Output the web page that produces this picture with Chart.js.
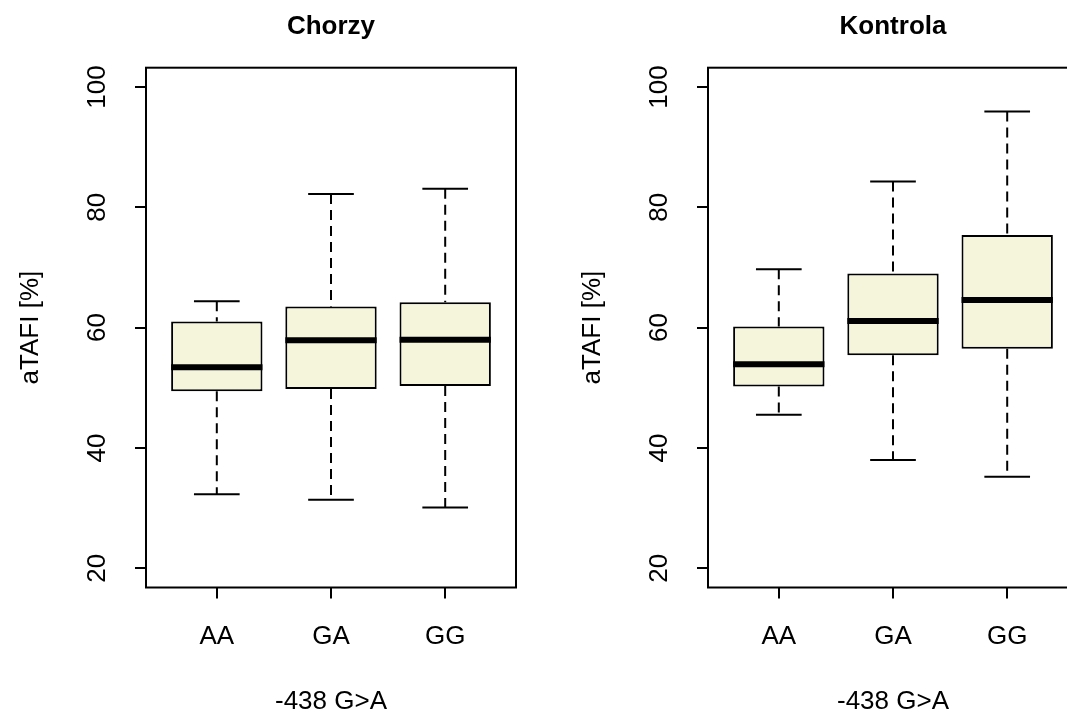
<!DOCTYPE html>
<html>
<head>
<meta charset="utf-8">
<script src="https://cdn.jsdelivr.net/npm/chart.js@4.4.1/dist/chart.umd.min.js"></script>
<style>
  body { margin: 0; background: #fff; }
  #wrap { position: relative; width: 1067px; height: 715px; overflow: hidden; background: #fff; }
  #wrap canvas { position: absolute; top: 0; }
</style>
</head>
<body>
<div id="wrap">
  <canvas id="chorzy" width="562" height="715" style="left:0"></canvas>
  <canvas id="kontrola" width="562" height="715" style="left:562px"></canvas>
</div>
<script>
// data
const categories = ["AA", "GA", "GG"];
const yTicks = [20, 40, 60, 80, 100];
const yMin = 16.8;
const yMax = 103.2;

const chorzyMin = [32.3, 31.4, 30.1];
const chorzyQ1 = [49.4, 49.8, 50.3];
const chorzyMed = [53.4, 57.9, 58.0];
const chorzyQ3 = [61.0, 63.5, 64.2];
const chorzyMax = [64.4, 82.2, 83.1];

const kontrolaMin = [45.5, 38.0, 35.2];
const kontrolaQ1 = [50.2, 55.4, 56.5];
const kontrolaMed = [53.9, 61.1, 64.6];
const kontrolaQ3 = [60.2, 69.0, 75.4];
const kontrolaMax = [69.7, 84.3, 95.9];

Chart.defaults.font.family = "'Liberation Sans', Arial, sans-serif";
Chart.defaults.font.size = 26;
Chart.defaults.color = "#000";

function boxPlugin(min, q1, med, q3, max) {
  return {
    id: "boxplot",
    beforeDatasetsDraw(chart) {
      const { ctx } = chart;
      const x = chart.scales.x, y = chart.scales.y;
      const bars = chart.getDatasetMeta(0).data;
      ctx.save();
      ctx.strokeStyle = "#000";
      ctx.lineWidth = 2;
      categories.forEach((c, i) => {
        const cx = x.getPixelForValue(i + 1);
        const cap = bars[i].width / 4;
        // whiskers
        ctx.setLineDash([10, 6]);
        ctx.beginPath();
        ctx.moveTo(cx, y.getPixelForValue(max[i]));
        ctx.lineTo(cx, y.getPixelForValue(q3[i]));
        ctx.moveTo(cx, y.getPixelForValue(q1[i]));
        ctx.lineTo(cx, y.getPixelForValue(min[i]));
        ctx.stroke();
        // staples
        ctx.setLineDash([]);
        ctx.beginPath();
        ctx.moveTo(cx - cap, y.getPixelForValue(max[i]));
        ctx.lineTo(cx + cap, y.getPixelForValue(max[i]));
        ctx.moveTo(cx - cap, y.getPixelForValue(min[i]));
        ctx.lineTo(cx + cap, y.getPixelForValue(min[i]));
        ctx.stroke();
      });
      ctx.restore();
    },
    afterDatasetsDraw(chart) {
      const { ctx } = chart;
      const x = chart.scales.x, y = chart.scales.y;
      const bars = chart.getDatasetMeta(0).data;
      ctx.save();
      ctx.strokeStyle = "#000";
      ctx.lineWidth = 6;
      categories.forEach((c, i) => {
        const cx = x.getPixelForValue(i + 1);
        const half = bars[i].width / 2;
        const py = y.getPixelForValue(med[i]);
        ctx.beginPath();
        ctx.moveTo(cx - half, py);
        ctx.lineTo(cx + half, py);
        ctx.stroke();
      });
      // plot frame
      const a = chart.chartArea;
      ctx.lineWidth = 2;
      ctx.strokeRect(a.left, a.top, a.right - a.left, a.bottom - a.top);
      ctx.restore();
    }
  };
}

function makeChart(id, title, min, q1, med, q3, max) {
  return new Chart(document.getElementById(id), {
    type: "bar",
    data: {
      datasets: [{
        data: categories.map((c, i) => ({ x: i + 1, y: [q1[i], q3[i]] })),
        backgroundColor: "#F5F5DC",
        borderColor: "#000",
        borderWidth: 2,
        borderSkipped: false,
        barPercentage: 1,
        categoryPercentage: 0.8
      }]
    },
    options: {
      responsive: false,
      animation: false,
      layout: { padding: { left: 0, right: 46, top: 0, bottom: 0 } },
      plugins: {
        legend: { display: false },
        tooltip: { enabled: false },
        title: {
          display: true,
          text: title,
          fullSize: false,
          font: { size: 26, weight: "bold", lineHeight: 1 },
          padding: { top: 13.5, bottom: 28.2 }
        }
      },
      scales: {
        x: {
          type: "linear",
          min: 0.38,
          max: 3.62,
          offset: false,
          afterBuildTicks: (s) => { s.ticks = categories.map((c, i) => ({ value: i + 1 })); },
          afterFit: (s) => { s.height = 127.5; },
          ticks: {
            callback: (v) => categories[v - 1],
            autoSkip: false,
            maxRotation: 0,
            padding: 25.5,
            font: { size: 26, lineHeight: 1 }
          },
          grid: { offset: false, drawOnChartArea: false, drawTicks: true, tickLength: 11, color: "#000", lineWidth: 2 },
          border: { display: false },
          title: { display: true, text: "-438 G>A", font: { size: 26, lineHeight: 1 }, padding: { top: 0, bottom: 0 } }
        },
        y: {
          min: yMin,
          max: yMax,
          afterBuildTicks: (s) => { s.ticks = yTicks.map((v) => ({ value: v })); },
          afterFit: (s) => { s.width = 146; },
          ticks: {
            minRotation: 90,
            maxRotation: 90,
            crossAlign: "center",
            autoSkip: false,
            padding: 15,
            font: { size: 26, lineHeight: 1 }
          },
          grid: { drawOnChartArea: false, drawTicks: true, tickLength: 11, color: "#000", lineWidth: 2 },
          border: { display: false },
          title: { display: true, text: "aTAFI [%]", font: { size: 26, lineHeight: 1 }, padding: { top: 17.5, bottom: 0 } }
        }
      }
    },
    plugins: [boxPlugin(min, q1, med, q3, max)]
  });
}

makeChart("chorzy", "Chorzy", chorzyMin, chorzyQ1, chorzyMed, chorzyQ3, chorzyMax);
makeChart("kontrola", "Kontrola", kontrolaMin, kontrolaQ1, kontrolaMed, kontrolaQ3, kontrolaMax);
</script>
</body>
</html>
